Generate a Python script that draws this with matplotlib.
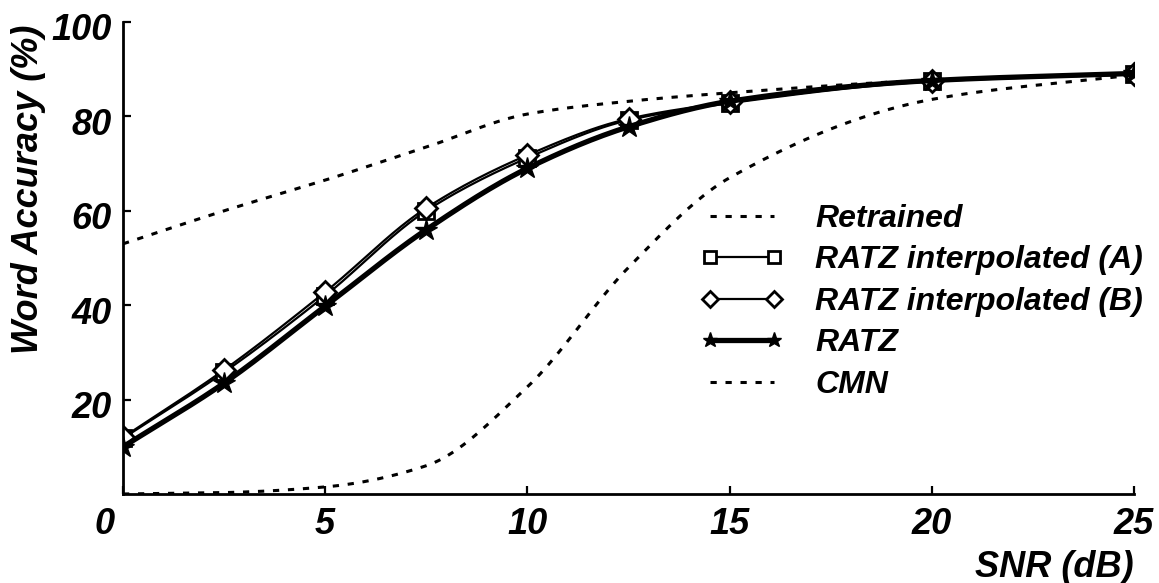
import numpy as np
import matplotlib
matplotlib.use("Agg")
import matplotlib.pyplot as plt
from matplotlib.transforms import ScaledTranslation

plt.rcParams['font.family'] = ['Liberation Sans', 'DejaVu Sans']
plt.rcParams['font.weight'] = 'bold'
plt.rcParams['font.style'] = 'italic'
plt.rcParams['axes.labelweight'] = 'bold'
plt.rcParams['lines.scale_dashes'] = False

# SNR grid (dB) and word accuracy (%) per system
snr = [0, 2.5, 5, 7.5, 10, 12.5, 15, 20, 25]
retrained = [53.0, 60.0, 66.5, 73.5, 80.5, 83.2, 85.0, 87.7, 89.0]
ratz_interp_a = [11.8, 25.8, 42.0, 60.0, 71.2, 79.2, 82.8, 87.4, 88.9]
ratz_interp_b = [12.0, 26.3, 42.8, 60.6, 71.8, 79.5, 83.0, 87.5, 89.0]
ratz = [10.0, 23.5, 39.8, 56.0, 69.0, 77.8, 83.2, 87.6, 89.1]
cmn = [0.0, 0.3, 1.5, 6.0, 22.7, 48.0, 67.0, 83.6, 88.8]

labels = ["Retrained", "RATZ interpolated (A)", "RATZ interpolated (B)", "RATZ", "CMN"]
x_ticks = [0, 5, 10, 15, 20, 25]
y_ticks = [20, 40, 60, 80, 100]


def smooth(x, y, n=24):
    """Monotone cubic (PCHIP) curve through the points; returns the dense
    curve and the indices of the original points inside it."""
    x = np.asarray(x, float)
    y = np.asarray(y, float)
    h = np.diff(x)
    d = np.diff(y) / h
    m = np.zeros_like(y)
    for k in range(1, len(x) - 1):
        if d[k - 1] * d[k] > 0:
            w1 = 2 * h[k] + h[k - 1]
            w2 = h[k] + 2 * h[k - 1]
            m[k] = (w1 + w2) / (w1 / d[k - 1] + w2 / d[k])
    m[0] = d[0]
    m[-1] = d[-1]
    xs, ys = [], []
    t = np.linspace(0, 1, n, endpoint=False)
    h00 = 2 * t**3 - 3 * t**2 + 1
    h10 = t**3 - 2 * t**2 + t
    h01 = -2 * t**3 + 3 * t**2
    h11 = t**3 - t**2
    for k in range(len(h)):
        xs.append(x[k] + t * h[k])
        ys.append(h00 * y[k] + h10 * h[k] * m[k] + h01 * y[k + 1] + h11 * h[k] * m[k + 1])
    xs.append([x[-1]])
    ys.append([y[-1]])
    return np.concatenate(xs), np.concatenate(ys), [k * n for k in range(len(x))]


fig = plt.figure(figsize=(11.59, 5.83), dpi=100)
ax = fig.add_axes([123 / 1159, 89 / 583, 1011 / 1159, 472 / 583])

dash = (4.5, 6.3)
xs, ys, _ = smooth(snr, retrained)
ax.plot(xs, ys, color='black', lw=2.2, dashes=dash, label=labels[0])

xs, ys, idx = smooth(snr, ratz_interp_a)
ax.plot(xs, ys, color='black', lw=1.6, marker='s', markevery=idx, ms=12,
        mfc='white', mec='black', mew=2.0, label=labels[1])

xs, ys, idx = smooth(snr, ratz_interp_b)
ax.plot(xs, ys, color='black', lw=1.6, marker='D', markevery=idx, ms=11,
        mfc='white', mec='black', mew=2.0, label=labels[2])

xs, ys, idx = smooth(snr, ratz)
ax.plot(xs, ys, color='black', lw=3.8, marker='*', markevery=idx, ms=16,
        mfc='black', mec='black', label=labels[3])

xs, ys, _ = smooth(snr, cmn)
ax.plot(xs, ys, color='black', lw=2.2, dashes=dash, label=labels[4])

ax.set_xlim(0, 25)
ax.set_ylim(0, 100)
ax.set_xticks(x_ticks)
ax.set_yticks(y_ticks)
ax.tick_params(direction='in', length=6, width=1.6, labelsize=26)
ax.tick_params(axis='x', pad=9)
ax.tick_params(axis='y', pad=8)
for s in ['top', 'right']:
    ax.spines[s].set_visible(False)
for s in ['left', 'bottom']:
    ax.spines[s].set_linewidth(2)

# nudge the first x label left and the y labels slightly down
xl = ax.get_xticklabels()
xl[0].set_transform(xl[0].get_transform() + ScaledTranslation(-0.18, 0, fig.dpi_scale_trans))
for lab in ax.get_yticklabels():
    lab.set_transform(lab.get_transform() + ScaledTranslation(0, -0.05, fig.dpi_scale_trans))

ax.set_xlabel("SNR (dB)", fontsize=26, ha='right', va='center')
ax.xaxis.set_label_coords(1.0, -0.155)
ax.set_ylabel("Word Accuracy (%)", fontsize=26, va='center', ha='center')
ax.yaxis.set_label_coords(-0.093, 0.646)

ax.legend(loc='upper left', bbox_to_anchor=(0.571, 0.615), frameon=False,
          fontsize=23, handlelength=2.6, handletextpad=1.0, labelspacing=0.36,
          borderpad=0, borderaxespad=0, markerscale=0.7, numpoints=2)

fig.savefig("out.png", dpi=100)
